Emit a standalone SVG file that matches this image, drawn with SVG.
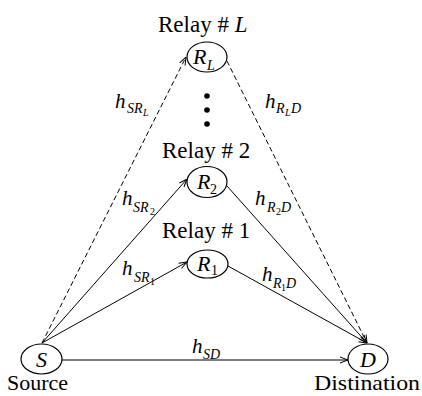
<svg xmlns="http://www.w3.org/2000/svg" width="422" height="396" viewBox="0 0 422 396">
<defs>
<marker id="arr" markerUnits="userSpaceOnUse" markerWidth="9" markerHeight="8" viewBox="0 0 9 8" refX="9" refY="4" orient="auto">
<path d="M1,1 L9,4 L1,7" fill="none" stroke="#000" stroke-width="1"/>
</marker>
<style>
.n{fill:#fff;stroke:#000;stroke-width:1.2}
text{font-family:'Liberation Serif','Times New Roman',serif;fill:#000}
.lbl{font-size:23px}
.m{font-style:italic}
.e{stroke:#000;stroke-width:1;fill:none;marker-end:url(#arr)}
.d{stroke-dasharray:5 3}
</style>
</defs>
<rect width="422" height="396" fill="#fff"/>
<g id="connectors">
<line class="e" x1="42" y1="343" x2="187" y2="262"/>
<line class="e" x1="42" y1="343" x2="187" y2="179"/>
<line class="e d" x1="42" y1="343" x2="186" y2="57"/>
<line class="e" x1="228" y1="266" x2="367" y2="343"/>
<line class="e" x1="227" y1="186" x2="367" y2="343"/>
<line class="e d" x1="227" y1="61" x2="367" y2="343"/>
<line class="e" x1="62" y1="360" x2="348" y2="360"/>
</g>
<g id="labels">
<text class="m" x="115" y="108" font-size="21">h<tspan x="127" y="113" font-size="14">SR</tspan><tspan x="143" y="116" font-size="10">L</tspan></text>
<text class="m" x="265" y="108" font-size="21">h<tspan x="276" y="113" font-size="14">R</tspan><tspan x="285" y="116" font-size="10">L</tspan><tspan x="291" y="113" font-size="14">D</tspan></text>
<text class="m" x="122" y="205" font-size="21">h<tspan x="133" y="212" font-size="14">SR</tspan><tspan x="150" y="215" font-size="10" font-style="normal">2</tspan></text>
<text class="m" x="255" y="205" font-size="21">h<tspan x="267" y="212" font-size="14">R</tspan><tspan x="276" y="215" font-size="10" font-style="normal">2</tspan><tspan x="281" y="212" font-size="14">D</tspan></text>
<text class="m" x="122" y="275" font-size="21">h<tspan x="134" y="282" font-size="14">SR</tspan><tspan x="150" y="285" font-size="10" font-style="normal">1</tspan></text>
<text class="m" x="262" y="281" font-size="21">h<tspan x="273" y="288" font-size="14">R</tspan><tspan x="281" y="291" font-size="10" font-style="normal">1</tspan><tspan x="286" y="288" font-size="14">D</tspan></text>
<text class="m" x="192" y="353" font-size="21">h<tspan x="203" y="359" font-size="14">SD</tspan></text>
</g>
<g id="dots" fill="#000">
<circle cx="207" cy="96" r="2.8"/>
<circle cx="207" cy="110" r="2.8"/>
<circle cx="207" cy="124" r="2.8"/>
</g>
<g id="relayL">
<text class="lbl" x="158" y="32">Relay # <tspan class="m">L</tspan></text>
<ellipse class="n" cx="207" cy="57" rx="20" ry="15"/>
<text class="m" x="193" y="64" font-size="22">R<tspan x="207" y="70" font-size="14">L</tspan></text>
</g>
<g id="relay2">
<text class="lbl" x="162" y="158">Relay # 2</text>
<ellipse class="n" cx="207" cy="182" rx="20" ry="15.5"/>
<text class="m" x="197" y="189" font-size="22">R<tspan x="210" y="194" font-size="14" font-style="normal">2</tspan></text>
</g>
<g id="relay1">
<text class="lbl" x="162" y="238">Relay # 1</text>
<ellipse class="n" cx="207.5" cy="264" rx="20.5" ry="14"/>
<text class="m" x="197" y="271" font-size="22">R<tspan x="211" y="275" font-size="14" font-style="normal">1</tspan></text>
</g>
<g id="source">
<ellipse class="n" cx="41.5" cy="359" rx="20.5" ry="15"/>
<text class="m" x="41.5" y="367" font-size="22" text-anchor="middle">S</text>
<text x="7" y="390" font-size="22">Source</text>
</g>
<g id="destination">
<ellipse class="n" cx="368" cy="359" rx="20" ry="15"/>
<text class="m" x="368" y="367" font-size="22" text-anchor="middle">D</text>
<text x="314" y="390" font-size="22" textLength="106" lengthAdjust="spacingAndGlyphs">Distination</text>
</g>
</svg>
